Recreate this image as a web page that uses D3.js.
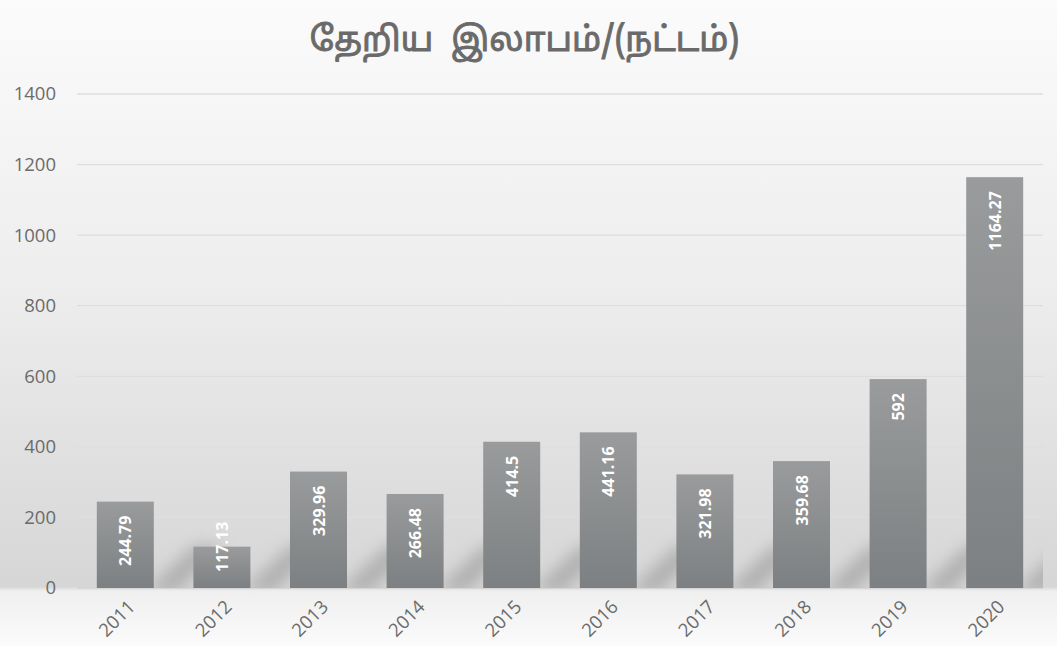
<!DOCTYPE html>
<html>
<head>
<meta charset="utf-8">
<script src="https://cdn.jsdelivr.net/npm/d3@7"></script>
<style>
  body { margin: 0; }
  svg { display: block; }
</style>
</head>
<body>
<div id="chart"></div>
<script>
// Chart data
const years = ["2011", "2012", "2013", "2014", "2015", "2016", "2017", "2018", "2019", "2020"];
const profit = [244.79, 117.13, 329.96, 266.48, 414.5, 441.16, 321.98, 359.68, 592, 1164.27];
const yTicks = [0, 200, 400, 600, 800, 1000, 1200, 1400];
const title = "தேறிய  இலாபம்/(நட்டம்)";

const W = 1057, H = 646;
const margin = { top: 94, right: 12, bottom: 58, left: 77 };
const width = W - margin.left - margin.right;
const height = H - margin.top - margin.bottom;

const svg = d3.select("#chart").append("svg")
  .attr("width", W)
  .attr("height", H);

const defs = svg.append("defs");

// background gradient
const bg = defs.append("linearGradient").attr("id", "bg")
  .attr("x1", 0).attr("y1", 0).attr("x2", 0).attr("y2", 1);
bg.append("stop").attr("offset", "0%").attr("stop-color", "#fbfbfb");
bg.append("stop").attr("offset", "45%").attr("stop-color", "#ededed");
bg.append("stop").attr("offset", "90.8%").attr("stop-color", "#d5d6d5");
bg.append("stop").attr("offset", "91.5%").attr("stop-color", "#eeefee");
bg.append("stop").attr("offset", "100%").attr("stop-color", "#fbfbfb");

// bar gradient
const barG = defs.append("linearGradient").attr("id", "barG")
  .attr("x1", 0).attr("y1", 0).attr("x2", 0).attr("y2", 1);
barG.append("stop").attr("offset", "0%").attr("stop-color", "#999b9c");
barG.append("stop").attr("offset", "100%").attr("stop-color", "#7d8082");

// soft shadow blur
defs.append("filter").attr("id", "blur")
  .attr("x", "-50%").attr("y", "-50%").attr("width", "200%").attr("height", "200%")
  .append("feGaussianBlur").attr("stdDeviation", 8);

defs.append("clipPath").attr("id", "plotClip")
  .append("rect").attr("x", 0).attr("y", 0).attr("width", width - 2).attr("height", height);

svg.append("rect").attr("width", W).attr("height", H).attr("fill", "url(#bg)");

// Title
svg.append("text")
  .attr("x", W / 2 - 4)
  .attr("y", 51)
  .attr("text-anchor", "middle")
  .style("white-space", "pre")
  .attr("font-family", "'Noto Sans Tamil', 'Latha', 'Noto Sans', sans-serif")
  .attr("font-size", 34)
  .attr("fill", "#6a6a6a")
  .attr("stroke", "#6a6a6a")
  .attr("stroke-width", 0.9)
  .text(title);

const g = svg.append("g")
  .attr("transform", `translate(${margin.left},${margin.top})`);

// scales
const x = d3.scaleBand()
  .domain(years)
  .range([0, width - 2])
  .paddingInner(0.41)
  .paddingOuter(0.205);

const y = d3.scaleLinear()
  .domain([0, 1400])
  .range([height, 0]);

// gridlines
g.append("g")
  .selectAll("line")
  .data(yTicks)
  .enter().append("line")
  .attr("x1", 0)
  .attr("x2", width - 2)
  .attr("y1", d => y(d))
  .attr("y2", d => y(d))
  .attr("stroke", d => d === 0 ? "#d2d3d2" : "#dedede")
  .attr("stroke-width", 1.3);

// y axis labels
const yAxis = g.append("g")
  .call(d3.axisLeft(y).tickValues(yTicks).tickFormat(d3.format("d")).tickSize(0).tickPadding(21));
yAxis.select(".domain").remove();
yAxis.selectAll("text")
  .attr("font-family", "'Open Sans', Calibri, sans-serif")
  .attr("font-size", 18.5)
  .attr("fill", "#6b6b6b");

const data = years.map((yr, i) => ({ year: yr, value: profit[i] }));

// soft slanted shadows beside bars
g.append("g")
  .attr("clip-path", "url(#plotClip)")
  .selectAll("path")
  .data(data)
  .enter().append("path")
  .attr("d", d => {
    const x0 = x(d.year) + x.bandwidth();
    const b = y(0) + 4;
    return `M${x0 - 8},${b} L${x0 + 22},${b} L${x0 + 70},${b - 46} L${x0 + 40},${b - 46} Z`;
  })
  .attr("fill", "#8e8f8e")
  .attr("opacity", 0.55)
  .attr("filter", "url(#blur)");

// bars
g.append("g")
  .selectAll("rect")
  .data(data)
  .enter().append("rect")
  .attr("x", d => x(d.year))
  .attr("y", d => y(d.value))
  .attr("width", x.bandwidth())
  .attr("height", d => y(0) - y(d.value))
  .attr("fill", "url(#barG)");

// value labels
const labels = g.append("g")
  .selectAll("text")
  .data(data)
  .enter().append("text")
  .attr("text-anchor", "end")
  .attr("font-family", "'Open Sans', Calibri, sans-serif")
  .attr("font-weight", "bold")
  .attr("font-size", 16)
  .attr("fill", "#ffffff")
  .text(d => d.value);

labels.each(function(d) {
  const len = this.getComputedTextLength();
  const start = Math.min(y(d.value) + 14, y(0) - 16 - len);
  const cx = x(d.year) + x.bandwidth() / 2 + 6;
  d3.select(this).attr("transform", `translate(${cx},${start}) rotate(-90)`);
});

// x axis labels
const xAxis = g.append("g")
  .attr("transform", `translate(0,${height})`)
  .call(d3.axisBottom(x).tickSize(0).tickPadding(0));
xAxis.select(".domain").remove();
xAxis.selectAll("text")
  .attr("font-family", "'Open Sans', Calibri, sans-serif")
  .attr("font-size", 18.5)
  .attr("fill", "#6b6b6b")
  .attr("text-anchor", "end")
  .attr("dy", null)
  .attr("y", null)
  .attr("transform", "translate(11,20) rotate(-45)");
</script>
</body>
</html>
